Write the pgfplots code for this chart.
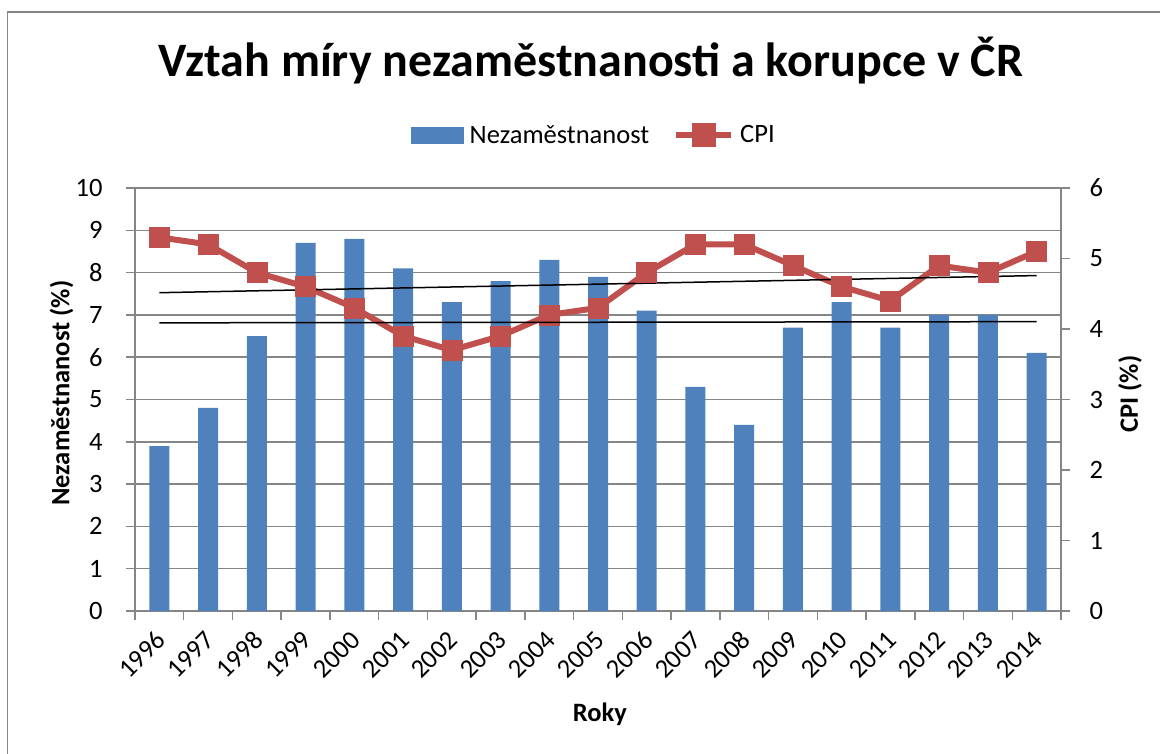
\documentclass[border=0pt]{standalone}
\usepackage{fontspec}
\setmainfont{Carlito}
\usepackage{pgfplots}
\pgfplotsset{compat=1.18}
\definecolor{barblue}{RGB}{79,129,189}
\definecolor{cpired}{RGB}{192,80,77}
\definecolor{axgray}{RGB}{134,134,134}
\pgfplotstableread{
x  u    cpi
0  3.9  5.3
1  4.8  5.2
2  6.5  4.8
3  8.7  4.6
4  8.8  4.3
5  8.1  3.9
6  7.3  3.7
7  7.8  3.9
8  8.3  4.2
9  7.9  4.3
10 7.1  4.8
11 5.3  5.2
12 4.4  5.2
13 6.7  4.9
14 7.3  4.6
15 6.7  4.4
16 7.0  4.9
17 7.0  4.8
18 6.1  5.1
}\datatable
\begin{document}
\begin{tikzpicture}[x=1pt,y=1pt]
\useasboundingbox (0,0) rectangle (1160,753);
\draw[axgray, line width=1.5pt] (7.5,-20) rectangle (1180,741);
\node[font=\fontsize{48}{56}\selectfont\bfseries, anchor=base] at (591,676) {Vztah míry nezaměstnanosti a korupce v ČR};
\pgfplotsset{
  common/.style={
    at={(135pt,142pt)}, anchor=south west,
    scale only axis, width=926pt, height=423pt,
    xmin=-0.5, xmax=18.5,
    axis line style={axgray, line width=1.5pt},
    tick align=outside,
    major tick length=9pt,
    minor tick length=9pt,
    ticklabel style={font=\fontsize{26.5}{30}\selectfont},
    /pgf/number format/assume math mode=true,
    label style={font=\fontsize{26.5}{30}\selectfont\bfseries},
  }
}
\begin{axis}[common,
  ymin=0, ymax=10,
  ytick={0,1,...,10},
  xtick={0,1,...,18},
  xticklabels={1996,1997,1998,1999,2000,2001,2002,2003,2004,2005,2006,2007,2008,2009,2010,2011,2012,2013,2014},
  minor xtick={-0.5,0.5,...,18.5},
  xtick pos=left, ytick pos=left,
  major x tick style={draw=none},
  minor x tick style={axgray, line width=1.5pt},
  major y tick style={axgray, line width=1.5pt},
  ymajorgrids,
  major grid style={axgray, line width=1.5pt},
  xticklabel style={xshift=4pt, yshift=-13pt, rotate=45, anchor=east},
  yticklabel style={xshift=-20pt},
  ylabel={Nezaměstnanost (\%)},
  ylabel style={at={(axis description cs:-0.0792,0.515)}, anchor=center},
  xlabel={Roky},
  xlabel style={at={(axis description cs:0.502,-0.2435)}, anchor=center},
]
\addplot[ybar, bar width=20pt, fill=barblue, draw=none] table[x=x, y=u] {\datatable};
\end{axis}
\begin{axis}[common,
  ymin=0, ymax=6,
  ytick={0,1,...,6},
  axis x line=none,
  axis y line*=right,
  ytick pos=right,
  major y tick style={axgray, line width=1.5pt},
  yticklabel style={xshift=16pt},
  ylabel={CPI (\%)},
  ylabel style={at={(axis description cs:1.0745,0.513)}, anchor=center, rotate=0},
  legend style={at={(0.4957,1.1253)}, anchor=center, draw=none, fill=none,
    font=\fontsize{26.5}{30}\selectfont, legend columns=2,
    /tikz/every odd column/.append style={column sep=4pt},
    /tikz/every even column/.append style={column sep=22pt}},
]
\addlegendimage{legend image code/.code={\fill[barblue] (0pt,-8pt) rectangle (52pt,8pt);}}
\addlegendentry{Nezaměstnanost}
\addplot[cpired, line width=6pt, mark=square*, mark size=10pt,
  mark options={solid, fill=cpired, draw=cpired, line width=0.5pt},
  legend image code/.code={\draw[cpired, line width=6pt] (0pt,0pt) -- (55pt,0pt);
    \fill[cpired] (18.5pt,-9pt) rectangle (36.5pt,9pt);}]
  table[x=x, y=cpi] {\datatable};
\addlegendentry{CPI}
\addplot[black, line width=1.5pt, forget plot] coordinates {(0,4.515) (18,4.758)};
\end{axis}
\begin{axis}[common, ymin=0, ymax=10, hide axis]
\addplot[black, line width=1.5pt, forget plot] coordinates {(0,6.812) (18,6.840)};
\end{axis}
\end{tikzpicture}
\end{document}
